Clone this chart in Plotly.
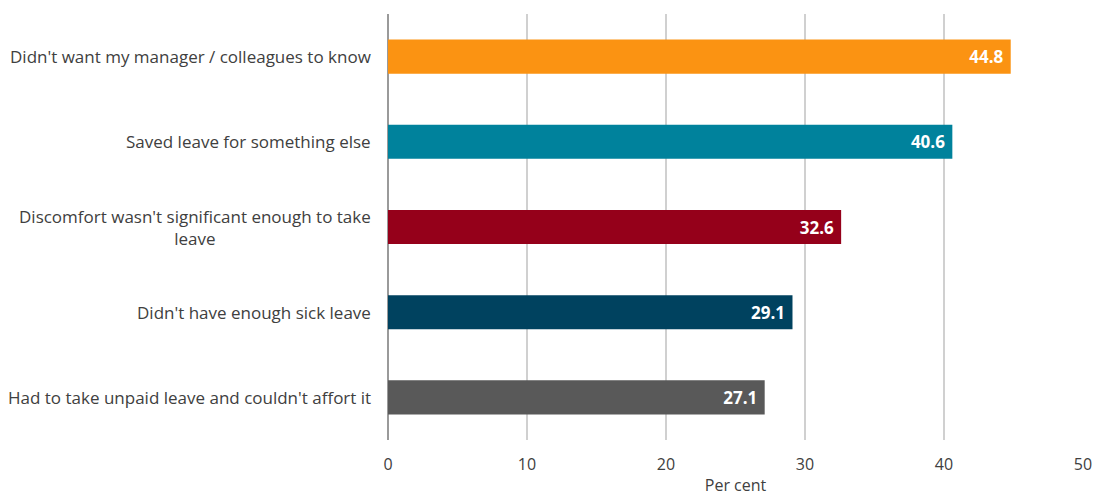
import plotly.graph_objects as go

categories = [
    "Didn't want my manager / colleagues to know",
    "Saved leave for something else",
    "Discomfort wasn't significant enough to take<br>leave",
    "Didn't have enough sick leave",
    "Had to take unpaid leave and couldn't affort it",
]
values = [44.8, 40.6, 32.6, 29.1, 27.1]
colors = ["#FB9312", "#00829C", "#95001A", "#00425F", "#595959"]
x_ticks = [0, 10, 20, 30, 40, 50]

FONT = "'Open Sans', sans-serif"

fig = go.Figure()
fig.add_trace(go.Bar(
    x=values,
    y=categories,
    orientation="h",
    marker=dict(color=colors, line=dict(width=0)),
    text=[f"{v:.1f}\u00a0" for v in values],
    textposition="inside",
    insidetextanchor="end",
    textfont=dict(color="white", size=17, family=FONT, weight="bold"),
    cliponaxis=False,
    hoverinfo="skip",
))

for c in categories:
    fig.add_annotation(
        x=0, xref="paper", y=c, yref="y",
        text=c, showarrow=False, xanchor="right", align="center",
        xshift=-15, font=dict(size=17, color="#404040", family=FONT),
    )

fig.update_layout(
    width=1094, height=496,
    margin=dict(l=388, r=11, t=14, b=56, autoexpand=False),
    paper_bgcolor="white", plot_bgcolor="white",
    showlegend=False,
    bargap=0.6,
    xaxis=dict(
        range=[0, 50], tickvals=x_ticks, ticktext=[str(t) for t in x_ticks],
        automargin=False,
        showgrid=True, gridcolor="#D0D0D0", gridwidth=2,
        zeroline=True, zerolinecolor="#9A9A9A", zerolinewidth=2,
        showline=False, ticks="", ticklabelstandoff=13,
        tickfont=dict(size=16, color="#404040", family=FONT),
        title=dict(text="Per cent", font=dict(size=16, color="#404040", family=FONT), standoff=9),
    ),
    yaxis=dict(
        categoryorder="array", categoryarray=categories[::-1],
        automargin=False,
        showticklabels=False, showgrid=False, zeroline=False, ticks="",
    ),
)

fig.write_html("out.html")
